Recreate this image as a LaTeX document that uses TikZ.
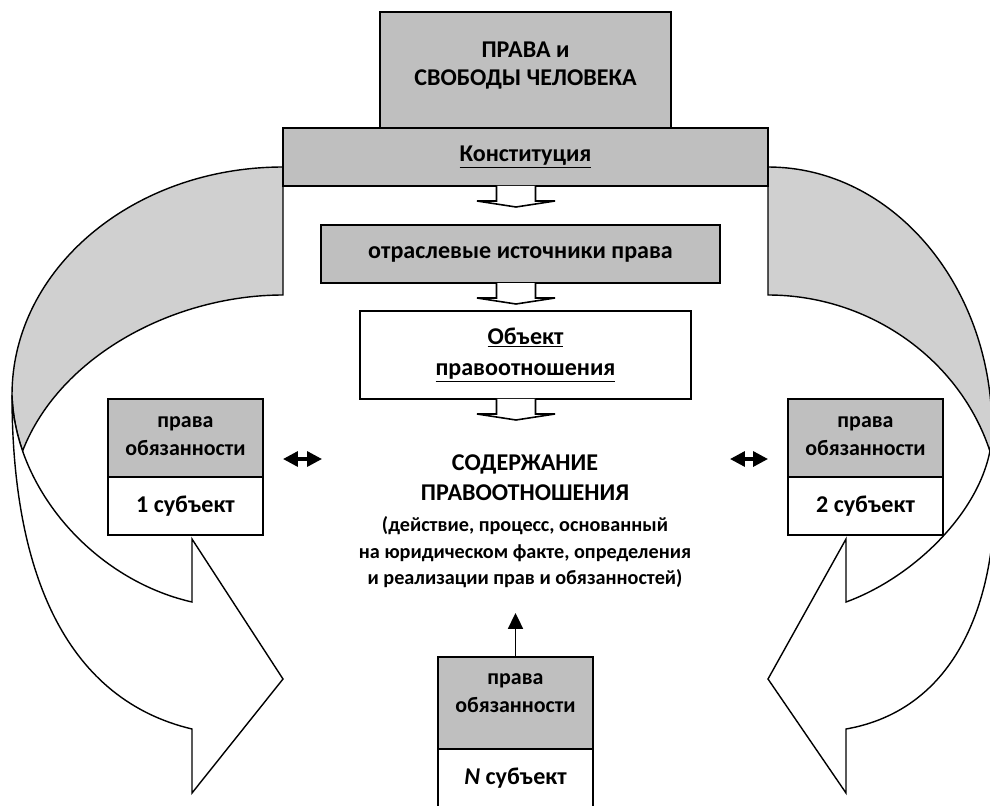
\documentclass[tikz,border=0pt]{standalone}
\usepackage{fontspec}
\setmainfont{Carlito}
\usetikzlibrary{arrows.meta,positioning}
\definecolor{boxgray}{RGB}{191,191,191}
\definecolor{bandgray}{RGB}{208,208,208}

\begin{document}
\begin{tikzpicture}[x=0.02cm,y=-0.02cm,
  box/.style={draw,line width=1pt,outer sep=0pt,inner sep=0pt,align=center,
    font=\fontsize{13.7}{16}\selectfont\bfseries},
  graybox/.style={box,fill=boxgray},
  whitebox/.style={box,fill=white},
  band/.style={draw,fill=bandgray,line width=0.8pt},
  bigarrow/.style={draw,fill=white,line width=0.8pt},
  hollow/.style={draw,fill=white,line width=0.9pt},
  dbl/.style={{Triangle[length=8.5pt,width=8.5pt]}-{Triangle[length=8.5pt,width=8.5pt]},line width=1.9pt},
  up/.style={-{Triangle[length=9pt,width=8.5pt]},line width=1.1pt}]
  \useasboundingbox (0,0) rectangle (990,805);
  \clip (0,0) rectangle (990,805);
  % curved arrows
  \draw[band](283,167) .. controls (133,167) and (12,269) .. (12,395)
    .. controls (12.6,414) and (16.3,432.8) .. (22.6,450.9)
    .. controls (60,355) and (175,295) .. (283,295) -- cycle;
  \draw[bigarrow](12,395) .. controls (12,580) and (70,700) .. (192,729)
    --(192,793)--(283,679)--(192,539)--(192,602)
    .. controls (95,580) and (15,490) .. (12,395) -- cycle;
  \draw[band](768,167) .. controls (891.7,167) and (992,284.7) .. (992,430)
    .. controls (992,437) and (991.3,444) .. (989.9,451.1)
    .. controls (960,360) and (870,295) .. (768,295) -- cycle;
  \draw[bigarrow](992,430) .. controls (1009,600) and (955,710) .. (846,729)
    --(846,793)--(768,679)--(846,539)--(846,602)
    .. controls (920,575) and (992,500) .. (992,430) -- cycle;
  % boxes
  \node[graybox,minimum width=5.82cm,minimum height=2.32cm,
    font=\fontsize{13.7}{15.9}\selectfont\bfseries,text height=18.2pt,text depth=0.3pt]
    (title) at (525.5,70) {ПРАВА и\\СВОБОДЫ ЧЕЛОВЕКА};
  \node[graybox,minimum width=9.7cm,minimum height=1.16cm] (konst) at (525.5,157)
    {\underline{Конституция}};
  \node[graybox,minimum width=7.98cm,minimum height=1.16cm] (otrasl) at (520.5,254)
    {отраслевые источники права};
  \node[whitebox,minimum width=6.62cm,minimum height=1.76cm,
    font=\fontsize{13.7}{17.6}\selectfont\bfseries] (obekt) at (525.5,355)
    {\underline{Объект}\\\underline{правоотношения}};
  \coordinate (ax) at (516,0);
  \foreach \n in {konst,otrasl,obekt}
    \draw[hollow](\n.south -| ax) ++(-19.5,0) -- ++(0,15) -- ++(-19.5,0)
      -- ++(39,6) -- ++(39,-6) -- ++(-19.5,0) -- ++(0,-15);
  \node[align=center,font=\fontsize{13.7}{17}\selectfont\bfseries] (soderzh) at (525,478)
    {СОДЕРЖАНИЕ\\ПРАВООТНОШЕНИЯ};
  \node[align=center,font=\fontsize{11.5}{15}\selectfont\bfseries,below=2pt of soderzh] (soderzhtxt)
    {(действие, процесс, основанный\\на юридическом факте, определения\\и реализации прав и обязанностей)};
  \foreach \s/\x/\y/\h/\th/\lbl in {1/185.5/399/1.56/20.4pt/1, 2/865.5/399/1.56/20.4pt/2,
      N/515.5/657/1.84/11.3pt/\textit{N}}{
    \node[graybox,anchor=north,minimum width=3.1cm,minimum height=\h cm,
      font=\fontsize{12.5}{15.9}\selectfont\bfseries,text height=\th,text depth=0.4pt]
      (top\s) at (\x,\y) {права\\обязанности};
    \node[whitebox,below=0pt of top\s,minimum width=3.1cm,minimum height=1.16cm] (sub\s)
      {\lbl\ субъект};
  }
  \coordinate (la) at (283,459); \coordinate (lb) at (322,459);
  \coordinate (ra) at (730,459); \coordinate (rb) at (768,459);
  \draw[dbl](la)--(lb);
  \draw[dbl](ra)--(rb);
  \coordinate (ntip) at (515.5,613);
  \draw[up](topN.north)--(ntip);
\end{tikzpicture}
\end{document}
